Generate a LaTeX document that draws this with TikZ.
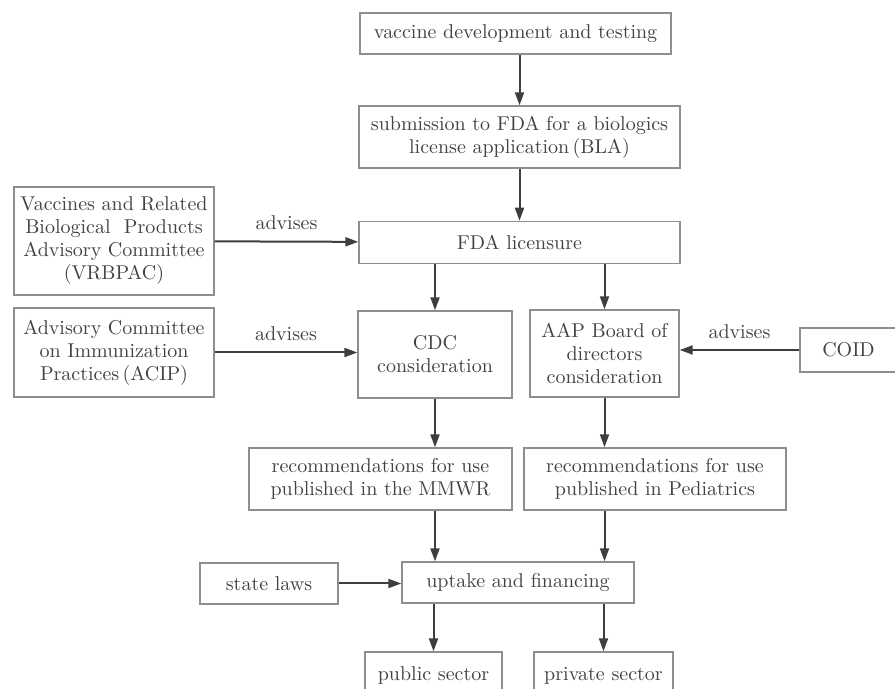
\documentclass[tikz,border=0pt]{standalone}
\usepackage{tikz}
\usetikzlibrary{arrows.meta,positioning}
\definecolor{FlowInk}{HTML}{3E4346}
\definecolor{FlowFrame}{HTML}{8C8F90}
\definecolor{FlowArrow}{HTML}{3A3F42}
\tikzset{
  stagebox/.style={draw=FlowFrame,line width=0.7pt,align=center,inner sep=2pt,text=FlowInk},
  flow/.style={-{Triangle[length=6.5pt,width=4.5pt]},line width=1pt,draw=FlowArrow},
  advice/.style={above=2pt,text=FlowInk}
}

\begin{document}
\begin{tikzpicture}[x=0.5pt,y=-0.5pt,node distance=26pt,font=\fontsize{10}{11.5}\selectfont]
  \useasboundingbox (0,0) rectangle (895,689);
  \node[stagebox,minimum width=155.5pt,minimum height=20.5pt] (vaccine) at (515.5,33.5) {vaccine development and testing};
  \node[stagebox,minimum width=160.5pt,minimum height=31pt] (submit) at (519.5,137) {submission to FDA for a biologics\\license application\,(BLA)};
  \node[stagebox,minimum width=160.5pt,minimum height=21pt,below=of submit] (fda) {FDA licensure};
  \node[stagebox,minimum width=100pt,minimum height=54pt] (vrbpac) at (114,241) {Vaccines and Related\\Biological\ \ Products\\Advisory Committee\\(VRBPAC)};
  \node[stagebox,minimum width=100pt,minimum height=44.5pt] (acip) at (114,352.5) {Advisory Committee\\on Immunization\\Practices\,(ACIP)};
  \node[stagebox,minimum width=77pt,minimum height=43.5pt] (cdc) at (435,354.5) {CDC\\consideration};
  \node[stagebox,minimum width=74.5pt,minimum height=43.5pt] (aap) at (604.5,353.5) {AAP Board of\\directors\\consideration};
  \node[stagebox,minimum width=48.5pt,minimum height=22pt] (coid) at (848.5,350) {COID};
  \node[stagebox,minimum width=131.5pt,minimum height=31pt] (mmwr) at (380.5,479) {recommendations for use\\published in the MMWR};
  \node[stagebox,minimum width=131pt,minimum height=31pt] (peds) at (655,479) {recommendations for use\\published in Pediatrics};
  \node[stagebox,minimum width=116pt,minimum height=20.5pt] (uptake) at (518,582.5) {uptake and financing};
  \node[stagebox,minimum width=69pt,minimum height=20.5pt] (state) at (269,583.5) {state laws};
  \node[stagebox,minimum width=68.5pt,minimum height=24pt] (public) at (433.5,676) {public sector};
  \node[stagebox,minimum width=69.5pt,minimum height=24pt] (private) at (603.5,676) {private sector};
  % main line
  \draw[flow] (submit.north |- vaccine.south) -- (submit.north);
  \draw[flow] (submit) -- (fda);
  \draw[flow] (vrbpac) -- node[advice]{advises} (fda);
  \draw[flow] (cdc.north |- fda.south) -- (cdc.north);
  \draw[flow] (aap.north |- fda.south) -- (aap.north);
  \draw[flow] (acip.east) -- node[advice]{advises} (acip.east -| cdc.west);
  \draw[flow] (coid.west) -- node[advice]{advises} (coid.west -| aap.east);
  \draw[flow] (cdc.south) -- (cdc.south |- mmwr.north);
  \draw[flow] (aap.south) -- (aap.south |- peds.north);
  \draw[flow] (cdc.south |- mmwr.south) -- (cdc.south |- uptake.north);
  \draw[flow] (aap.south |- peds.south) -- (aap.south |- uptake.north);
  \draw[flow] (state) -- (state -| uptake.west);
  \draw[flow] (public.north |- uptake.south) -- (public.north);
  \draw[flow] (private.north |- uptake.south) -- (private.north);
\end{tikzpicture}
\end{document}
